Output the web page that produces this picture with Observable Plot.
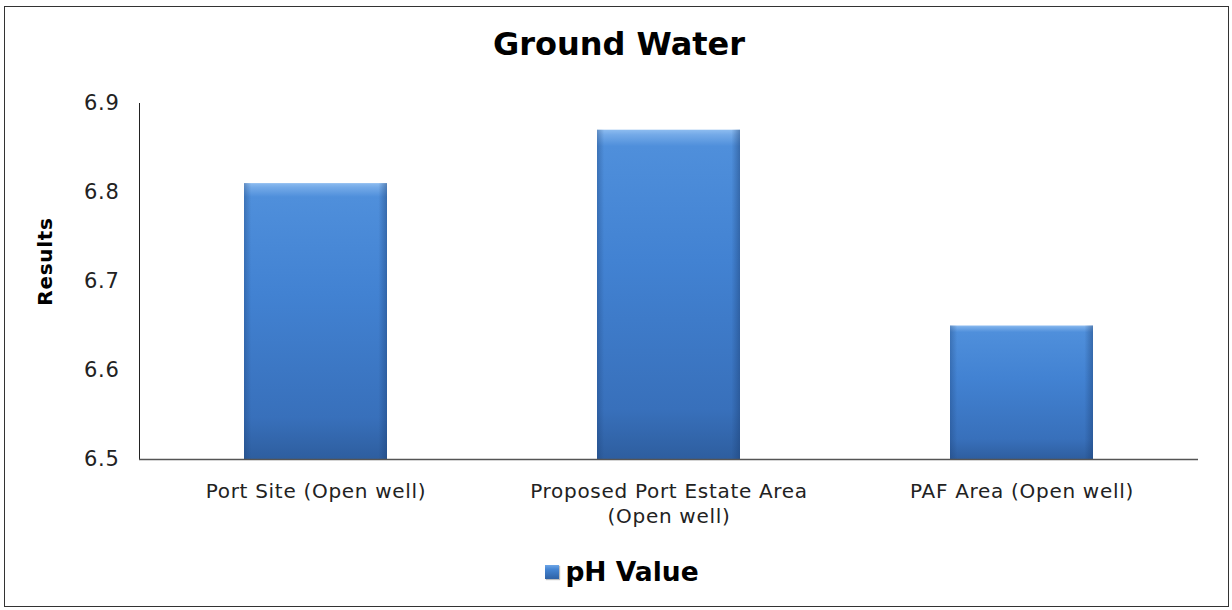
<!DOCTYPE html>
<html><head><meta charset="utf-8">
<script src="https://cdn.jsdelivr.net/npm/d3@7"></script>
<script src="https://cdn.jsdelivr.net/npm/@observablehq/plot@0.6"></script>
<style>
body{margin:0;background:#fff;font-family:"DejaVu Sans",Verdana,sans-serif;}
#wrap{position:relative;width:1232px;height:610px;overflow:hidden;}
#border{position:absolute;left:4px;top:6px;width:1225px;height:601px;border:1.5px solid #333;box-sizing:border-box;}
#title{position:absolute;top:25px;left:0;width:1238px;text-align:center;font-weight:bold;font-size:32px;color:#000;}
#chart{position:absolute;left:0;top:80px;}
#legend{position:absolute;top:556px;left:0;width:1244px;text-align:center;font-weight:bold;font-size:26.5px;color:#000;}
#legend .sw{display:inline-block;width:14px;height:14px;margin-right:6px;vertical-align:middle;position:relative;top:-2px;
  background:linear-gradient(#6fa6e6,#4585d3 30%,#2f62a5);box-shadow:1px 1px 1px rgba(0,0,0,0.25);}
</style>
</head><body>
<div id="wrap">
  <div id="border"></div>
  <div id="title"></div>
  <div id="chart"></div>
  <div id="legend"><span class="sw"></span><span id="legtext"></span></div>
</div>
<script>
const chartTitle = "Ground Water";
const seriesName = "pH Value";
const yLabel = "Results";
const categories = ["Port Site (Open well)", "Proposed Port Estate Area (Open well)", "PAF Area (Open well)"];
const tickLabels = ["Port Site (Open well)", "Proposed Port Estate Area\n(Open well)", "PAF Area (Open well)"];
const phValues = [6.81, 6.87, 6.65];
const yTicks = [6.5, 6.6, 6.7, 6.8, 6.9];

document.getElementById("title").textContent = chartTitle;
document.getElementById("legtext").textContent = seriesName;

const data = categories.map((c, i) => ({category: c, value: phValues[i]}));

const defs = d3.create("svg:defs");
const g1 = defs.append("linearGradient").attr("id", "barGrad")
  .attr("x1", 0).attr("y1", 0).attr("x2", 0).attr("y2", 1);
[["0%", "#8dbcf0"], ["1.5%", "#74aae8"], ["5%", "#4f8fdb"], ["40%", "#4282d2"], ["85%", "#3870bb"], ["100%", "#2e5e9f"]]
  .forEach(([o, c]) => g1.append("stop").attr("offset", o).attr("stop-color", c));
const g2 = defs.append("linearGradient").attr("id", "barSide")
  .attr("x1", 0).attr("y1", 0).attr("x2", 1).attr("y2", 0);
[["0%", "#1b3f73", 0.35], ["5%", "#1b3f73", 0.0], ["94%", "#1b3f73", 0.0], ["100%", "#1b3f73", 0.45]]
  .forEach(([o, c, a]) => g2.append("stop").attr("offset", o).attr("stop-color", c).attr("stop-opacity", a));
const f = defs.append("filter").attr("id", "shadow").attr("x", "-10%").attr("y", "-10%").attr("width", "130%").attr("height", "130%");
f.append("feDropShadow").attr("dx", 2).attr("dy", 1).attr("stdDeviation", 1.5).attr("flood-color", "#000").attr("flood-opacity", 0.3);

const chart = Plot.plot({
  width: 1232,
  height: 449,
  marginTop: 23,
  marginBottom: 70,
  marginLeft: 139,
  marginRight: 34,
  style: {fontFamily: "'DejaVu Sans', Verdana, sans-serif", fontSize: "20px", letterSpacing: "0.7px", color: "#222", overflow: "visible", background: "transparent"},
  x: {domain: categories, paddingInner: 0.595, paddingOuter: 0.2975, label: null},
  y: {domain: [6.5, 6.9], label: null},
  marks: [
    () => defs.node(),
    Plot.barY(data, {x: "category", y1: 6.5, y2: "value", fill: "url(#barGrad)", style: "filter:url(#shadow)"}),
    Plot.barY(data, {x: "category", y1: 6.5, y2: "value", fill: "url(#barSide)"}),
    Plot.frame({anchor: "left", stroke: "#222"}),
    Plot.ruleY([6.5], {stroke: "#555", strokeWidth: 1.5}),
    Plot.axisY({ticks: yTicks, tickSize: 0, tickPadding: 20, tickFormat: d3.format(".1f"), fontSize: 21, label: null}),
    Plot.axisX({tickSize: 0, tickPadding: 21, tickFormat: d => tickLabels[categories.indexOf(d)], lineHeight: 1.25, label: null}),
    Plot.text([yLabel], {text: d => d, frameAnchor: "left", textAnchor: "middle", dx: -94, dy: -20, rotate: -90, fontWeight: "bold", fontSize: 20, fill: "#000"})
  ]
});
document.getElementById("chart").appendChild(chart);
</script>
</body></html>
